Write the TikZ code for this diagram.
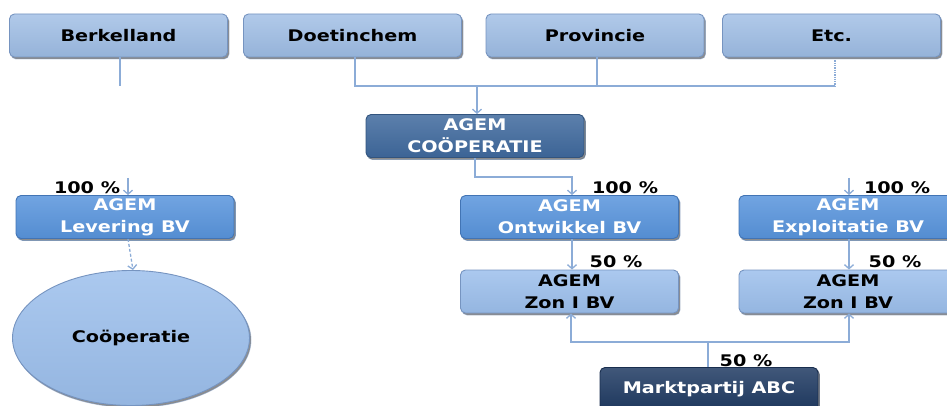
\documentclass[tikz,border=0pt]{standalone}
\usepackage{fontspec}
\setmainfont{DejaVu Sans}[FakeStretch=1.2]
\usetikzlibrary{shapes.geometric,shadows,arrows.meta}

\definecolor{gemeente}{RGB}{157,188,228}
\definecolor{gemeenterand}{RGB}{118,148,192}
\definecolor{bvblauw}{RGB}{88,148,220}
\definecolor{bvrand}{RGB}{66,116,180}
\definecolor{zonblauw}{RGB}{156,191,236}
\definecolor{coopblauw}{RGB}{63,105,157}
\definecolor{marktblauw}{RGB}{31,58,98}
\definecolor{lijn}{RGB}{140,172,215}

\begin{document}
\begin{tikzpicture}[x=1pt,y=-1pt,
                    font=\fontsize{16}{22}\selectfont\bfseries,
                    every node/.style={align=center, inner sep=0pt},
                    blok/.style={rectangle, rounded corners=5pt, minimum width=218pt, minimum height=43pt,
                                 draw, line width=0.9pt, copy shadow={shadow xshift=1.5pt, shadow yshift=-2pt, opacity=.45}},
                    gemeente box/.style={blok, top color=gemeente!80!white, bottom color=gemeente!95!black, draw=gemeenterand},
                    bv box/.style={blok, top color=bvblauw!85!white, bottom color=bvblauw!95!black, draw=bvrand, text=white},
                    zon box/.style={blok, top color=zonblauw!85!white, bottom color=zonblauw!95!black, draw=gemeenterand},
                    donker box/.style={blok, top color=#1!85!white, bottom color=#1!95!black, draw=#1!80!black, text=white},
                    lijntje/.style={draw=lijn, line width=1.3pt},
                    pijl/.style={lijntje, -{Straight Barb[length=4pt,width=9pt]}},
                    pct/.style={font=\fontsize{16}{18}\selectfont\bfseries}
]
\useasboundingbox (0,0) rectangle (947,406);

\node [gemeente box] at (118.5,35.5) (berk) {Berkelland};
\node [gemeente box] at (352.5,35.5) (doet) {Doetinchem};
\node [gemeente box] at (595,35.5) (prov) {Provincie};
\node [gemeente box] at (831.5,35.5) (etc) {Etc.};
%
\node [donker box=coopblauw] at (475,136) (coop) {AGEM\\CO\"OPERATIE};
%
\node [bv box] at (125,217) (lev) {AGEM\\Levering BV};
\node [bv box] at (569.5,217) (ontw) {AGEM\\Ontwikkel BV};
\node [bv box] at (848,217) (expl) {AGEM\\Exploitatie BV};
\node [zon box] at (569.5,291.5) (zon1) {AGEM\\Zon I BV};
\node [zon box] at (848,291.5) (zon2) {AGEM\\Zon I BV};
%
\node [ellipse, minimum width=237pt, minimum height=135pt, top color=zonblauw!85!white, bottom color=zonblauw!95!black,
       draw=gemeenterand, line width=0.9pt,
       copy shadow={shadow xshift=1.5pt, shadow yshift=-2pt, opacity=.45}] at (131,338) (coopleden) {Co\"operatie};
\node [donker box=marktblauw] at (709,389) (markt) {Marktpartij ABC};
%
\coordinate (berkstub) at (120,86);
\coordinate (etcend) at (835,86);
\coordinate (samen) at (477,86);
\coordinate (levin) at (128,178);
\coordinate (explin) at (849,178);
\coordinate (marktknik) at (708,342);
%
\draw [lijntje] (berk.south -| berkstub) -- (berkstub);
\draw [lijntje] (doet.south -| 355,0) |- (etcend);
\draw [lijntje] (prov.south -| 597,0) -- (597,86);
\draw [lijntje, densely dotted] ([yshift=-3pt]etc.south -| etcend) -- (etcend);
\draw [pijl] (samen) -- (coop.north -| samen);
%
\draw [pijl] (coop.south) -- ++(0,19) -| ([xshift=2.5pt]ontw.north);
\draw [pijl] (levin) -- (lev.north -| levin);
\draw [pijl] (explin) -- (expl.north -| explin);
\draw [pijl] ([xshift=2.5pt]ontw.south) -- ([xshift=2.5pt]zon1.north);
\draw [pijl] ([xshift=1pt]expl.south) -- ([xshift=1pt]zon2.north);
\draw [pijl, densely dashed] (lev.south -| levin) -- ([xshift=2pt]coopleden.north);
%
\draw [pijl] (markt.north -| marktknik) -- (marktknik) -| ([xshift=1.5pt]zon1.south);
\draw [pijl] (marktknik) -| ([xshift=1pt]zon2.south);
%
\node [pct] at (87,188) (pctlev) {100 \%};
\node [pct] at (625,188) (pctontw) {100 \%};
\node [pct] at (897,188) (pctexpl) {100 \%};
\node [pct] at (616,262) (pctzon1) {50 \%};
\node [pct] at (895,262) (pctzon2) {50 \%};
\node [pct] at (746,361) (pctmarkt) {50 \%};
\end{tikzpicture}
\end{document}
